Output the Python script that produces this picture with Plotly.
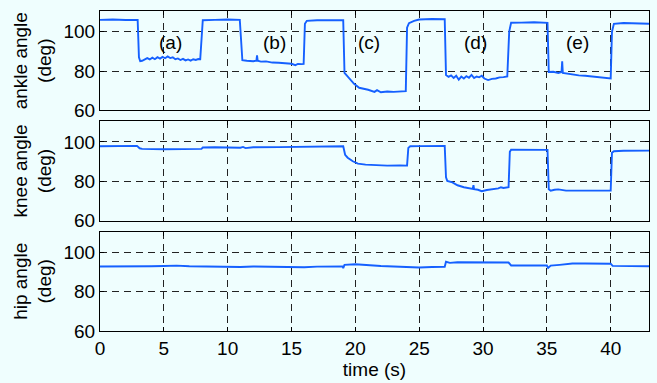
import plotly.graph_objects as go
from plotly.subplots import make_subplots

# ---------------- data ----------------
ankle_t = [0, 1, 2, 2.95, 3.05, 3.15, 3.3, 3.5, 3.7, 3.9, 4.1, 4.3, 4.5, 4.7, 4.9, 5.1, 5.3, 5.5, 5.7,
           5.9, 6.1, 6.3, 6.5, 6.7, 6.9, 7.1, 7.3, 7.5, 7.7, 7.85, 7.95, 8.05, 9, 10, 10.95, 11.05, 11.15,
           11.5, 12.0, 12.25, 12.3, 12.35, 12.6, 13.0, 13.5, 14.0, 14.5, 15.0, 15.3, 15.5, 15.8, 15.95,
           16.05, 16.2, 17, 18, 19.05, 19.15, 19.3, 19.6, 19.9, 20.3, 20.7, 21.0, 21.5, 21.7, 22.0, 22.5,
           23.0, 23.5, 23.95, 24.05, 24.2, 24.6, 25, 26, 27.0, 27.1, 27.3, 27.5, 27.7, 27.9, 28.1, 28.3,
           28.5, 28.7, 28.9, 29.1, 29.3, 29.5, 29.7, 29.9, 30.1, 30.4, 30.7, 31.0, 31.3, 31.6, 31.9,
           32.05, 32.2, 33, 34, 35.05, 35.15, 35.5, 35.9, 36.15, 36.2, 36.25, 36.6, 37.0, 37.5, 38.0,
           38.5, 39.0, 39.5, 40.0, 40.1, 40.25, 41, 42, 43]
ankle_v = [106, 106.2, 105.9, 106, 87, 85, 85.2, 85.8, 86.6, 85.9, 86.8, 86.0, 87.0, 86.3, 87.2, 86.5,
           87.4, 86.6, 87.0, 86.0, 86.4, 85.6, 86.2, 85.4, 85.9, 85.3, 86.0, 85.6, 86.1, 86.0, 100, 105.8,
           106.0, 106.2, 106, 95, 85.5, 85.2, 85.0, 85.3, 88.0, 85.2, 84.8, 84.9, 84.3, 84.2, 83.8, 83.7,
           83.0, 83.6, 83.5, 83.6, 104, 105.5, 105.8, 105.9, 105.8, 79, 78, 75.5, 73.5, 71.5, 71, 70.5,
           69.4, 70.3, 69.2, 69.6, 69.4, 69.6, 69.8, 102, 104.3, 105.5, 106.2, 106.4, 106.3, 78, 77.0,
           77.8, 76.5, 77.6, 75.6, 77.2, 76.2, 77.4, 76.6, 78.0, 76.4, 77.2, 76.8, 77.6, 76.2, 75.4, 76.0,
           76.2, 76.8, 76.9, 77.2, 100, 104.5, 104.6, 104.8, 104.5, 79.5, 79.6, 79.0, 79.5, 85.0, 79.0,
           78.6, 78.4, 77.8, 77.6, 77.2, 76.8, 76.5, 76.2, 100, 104, 104.4, 104.2, 104.0]

knee_t = [0, 1, 2, 2.9, 3.1, 3.3, 5, 7, 7.95, 8.05, 9, 11, 11.2, 11.4, 12, 14, 16, 18, 19.05, 19.2,
          19.4, 19.8, 20.2, 20.8, 21.5, 22.5, 23.5, 24.05, 24.15, 24.3, 25, 26, 27.0, 27.1, 27.2, 27.6,
          28.0, 28.5, 29.0, 29.2, 29.25, 29.3, 29.6, 29.9, 30.3, 30.8, 31.2, 31.4, 31.6, 32.0, 32.1,
          32.2, 33, 34, 35.05, 35.15, 35.3, 35.6, 35.9, 36.5, 37.5, 38.5, 39.5, 40.0, 40.1, 40.25, 41,
          42, 43]
knee_v = [97.8, 97.9, 97.7, 98.0, 96.8, 96.5, 96.3, 96.4, 96.5, 97.2, 97.3, 97.1, 97.5, 96.9, 97.3,
          97.4, 97.6, 97.7, 97.8, 93.5, 92.0, 90.2, 89.0, 88.5, 88.2, 88.0, 88.1, 88.0, 97.0, 97.8, 97.9,
          98.0, 98.0, 82, 80.2, 79.5, 78.0, 77.0, 76.3, 76.2, 78.0, 76.0, 75.7, 75.0, 75.6, 76.0, 76.4,
          77.0, 76.6, 77.0, 95, 96.1, 96.0, 96.1, 96.0, 76, 75.2, 75.7, 75.9, 75.3, 75.3, 75.2, 75.4,
          75.3, 94.5, 95.3, 95.5, 95.6, 95.6]

hip_t = [0, 1, 1.5, 2, 3, 4, 5, 6, 7, 8, 9, 10, 11, 12, 13, 14, 15, 16, 17, 18, 19.0, 19.05, 19.15,
         20, 21, 22, 23, 24, 25, 26, 27.0, 27.1, 27.4, 28, 29, 30, 31, 32.0, 32.2, 33, 34, 35.0, 35.1,
         35.3, 36, 37, 38, 39, 40.0, 40.15, 41, 42, 43]
hip_v = [92.8, 92.8, 92.6, 92.9, 92.8, 92.9, 93.0, 93.2, 92.9, 92.8, 92.6, 92.7, 92.5, 92.8, 92.7,
         92.6, 92.4, 92.4, 92.7, 92.8, 92.8, 92.0, 93.6, 93.9, 93.4, 93.0, 92.8, 92.5, 92.3, 92.5,
         92.6, 95.2, 94.6, 94.9, 94.8, 94.9, 94.9, 94.8, 93.3, 93.2, 93.2, 93.3, 92.0, 93.2, 93.6,
         94.3, 94.3, 94.4, 94.2, 93.1, 93.0, 93.1, 92.9]

y_titles = ["ankle angle<br>(deg)", "knee angle<br>(deg)", "hip angle<br>(deg)"]
x_ticks = [0, 5, 10, 15, 20, 25, 30, 35, 40]
y_ticks = [60, 80, 100]
phase_labels = ["(a)", "(b)", "(c)", "(d)", "(e)"]
phase_x = [5.5, 13.7, 21.1, 29.4, 37.4]
phase_y = [94.5, 94.5, 94.5, 94.5, 94.5]

# ---------------- figure ----------------
BG = "#effefe"
LINE = "#1560ff"
FONT = "Liberation Sans, Arial, Helvetica, sans-serif"

fig = make_subplots(rows=3, cols=1, shared_xaxes=True)
series = [(ankle_t, ankle_v), (knee_t, knee_v), (hip_t, hip_v)]
for i, (t, v) in enumerate(series):
    fig.add_trace(go.Scatter(x=t, y=v, mode="lines",
                             line=dict(color=LINE, width=1.9),
                             showlegend=False, hoverinfo="skip"), row=i + 1, col=1)

domains = [[0.6894, 1.0], [0.3447, 0.6553], [0.0, 0.3106]]
for i in range(3):
    n = "" if i == 0 else str(i + 1)
    fig.layout["xaxis" + n].update(
        domain=[0, 1], range=[0, 43], tickvals=x_ticks,
        showticklabels=(i == 2),
        showgrid=True, gridcolor="#222222", gridwidth=1, griddash="7px,5px",
        zeroline=False, showline=True, linecolor="black", linewidth=1.2, mirror="ticks",
        ticks="inside", ticklen=4, tickcolor="black",
        tickfont=dict(size=19, color="black", family=FONT),
    )
    fig.layout["yaxis" + n].update(
        domain=domains[i], range=[60, 110.5], tickvals=y_ticks,
        showgrid=True, gridcolor="#222222", gridwidth=1, griddash="7px,5px",
        zeroline=False, showline=True, linecolor="black", linewidth=1.2, mirror="ticks",
        ticks="inside", ticklen=4, tickcolor="black",
        tickfont=dict(size=19, color="black", family=FONT),
        title=dict(text=y_titles[i], font=dict(size=19, color="black", family=FONT), standoff=6),
    )
fig.layout.xaxis3.title = dict(text="time (s)", font=dict(size=19, color="black", family=FONT), standoff=4)

for lab, x, y in zip(phase_labels, phase_x, phase_y):
    fig.add_annotation(x=x, y=y, xref="x", yref="y", text=lab, showarrow=False,
                       font=dict(size=19, color="black", family=FONT))

fig.update_layout(
    width=657, height=383,
    margin=dict(l=100, r=7, t=11, b=50),
    paper_bgcolor=BG, plot_bgcolor=BG,
    font=dict(family=FONT, color="black"),
)

fig.write_html("out.html")
